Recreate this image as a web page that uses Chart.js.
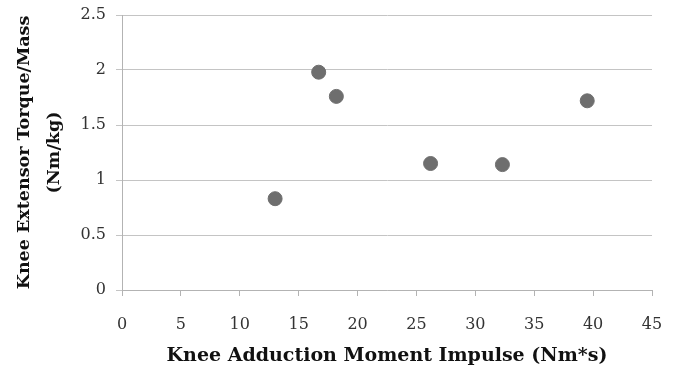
<!DOCTYPE html>
<html>
<head>
<meta charset="utf-8">
<script src="https://cdn.jsdelivr.net/npm/chart.js@4/dist/chart.umd.min.js"></script>
<style>
  html, body { margin: 0; padding: 0; background: #fff; }
  #wrap { width: 674px; height: 371px; }
</style>
</head>
<body>
<div id="wrap"><canvas id="chart" width="674" height="371"></canvas></div>
<script>
const impulse = [13.0, 16.7, 18.2, 26.2, 32.3, 39.5];
const torque = [0.83, 1.98, 1.76, 1.15, 1.14, 1.72];
const xTicks = [0, 5, 10, 15, 20, 25, 30, 35, 40, 45];
const yTicks = [0, 0.5, 1, 1.5, 2, 2.5];

const points = impulse.map((x, i) => ({ x: x, y: torque[i] }));

const serif = "'DejaVu Serif', serif";

new Chart(document.getElementById('chart'), {
    type: 'scatter',
    data: {
        datasets: [{
            data: points,
            backgroundColor: '#6e6e6e',
            borderColor: '#6e6e6e',
            pointRadius: 7,
            pointHoverRadius: 7
        }]
    },
    options: {
        responsive: false,
        animation: false,
        layout: { autoPadding: false, padding: { left: 10, right: 22, top: 15, bottom: 0 } },
        plugins: { legend: { display: false }, tooltip: { enabled: false } },
        scales: {
            x: {
                type: 'linear',
                min: 0,
                max: 45,
                afterBuildTicks: s => { s.ticks = xTicks.map(v => ({ value: v })); },
                afterFit: s => { s.height = 81; s.paddingLeft = 0; s.paddingRight = 0; },
                border: { color: '#b3b3b3', width: 1 },
                grid: { drawOnChartArea: false, drawTicks: true, tickLength: 6, color: '#b3b3b3' },
                ticks: { color: '#333', font: { family: serif, size: 16 }, padding: 19, maxRotation: 0, callback: v => String(v) },
                title: {
                    display: true,
                    text: 'Knee Adduction Moment Impulse (Nm*s)',
                    color: '#111',
                    font: { family: serif, size: 19, weight: 'bold' },
                    padding: { top: 0, bottom: 4 }
                }
            },
            y: {
                type: 'linear',
                min: 0,
                max: 2.5,
                afterBuildTicks: s => { s.ticks = yTicks.map(v => ({ value: v })); },
                afterFit: s => { s.width = 112; s.paddingTop = 0; s.paddingBottom = 0; },
                border: { color: '#b3b3b3', width: 1 },
                grid: { color: '#c4c4c4', tickLength: 6, drawTicks: true },
                ticks: { color: '#333', font: { family: serif, size: 16 }, padding: 10, callback: v => String(v) },
                title: {
                    display: true,
                    text: ['Knee Extensor Torque/Mass', '(Nm/kg)'],
                    color: '#111',
                    font: { family: serif, size: 17.5, weight: 'bold', lineHeight: 1.7 },
                    padding: { top: 0, bottom: 0 }
                }
            }
        }
    }
});
</script>
</body>
</html>
